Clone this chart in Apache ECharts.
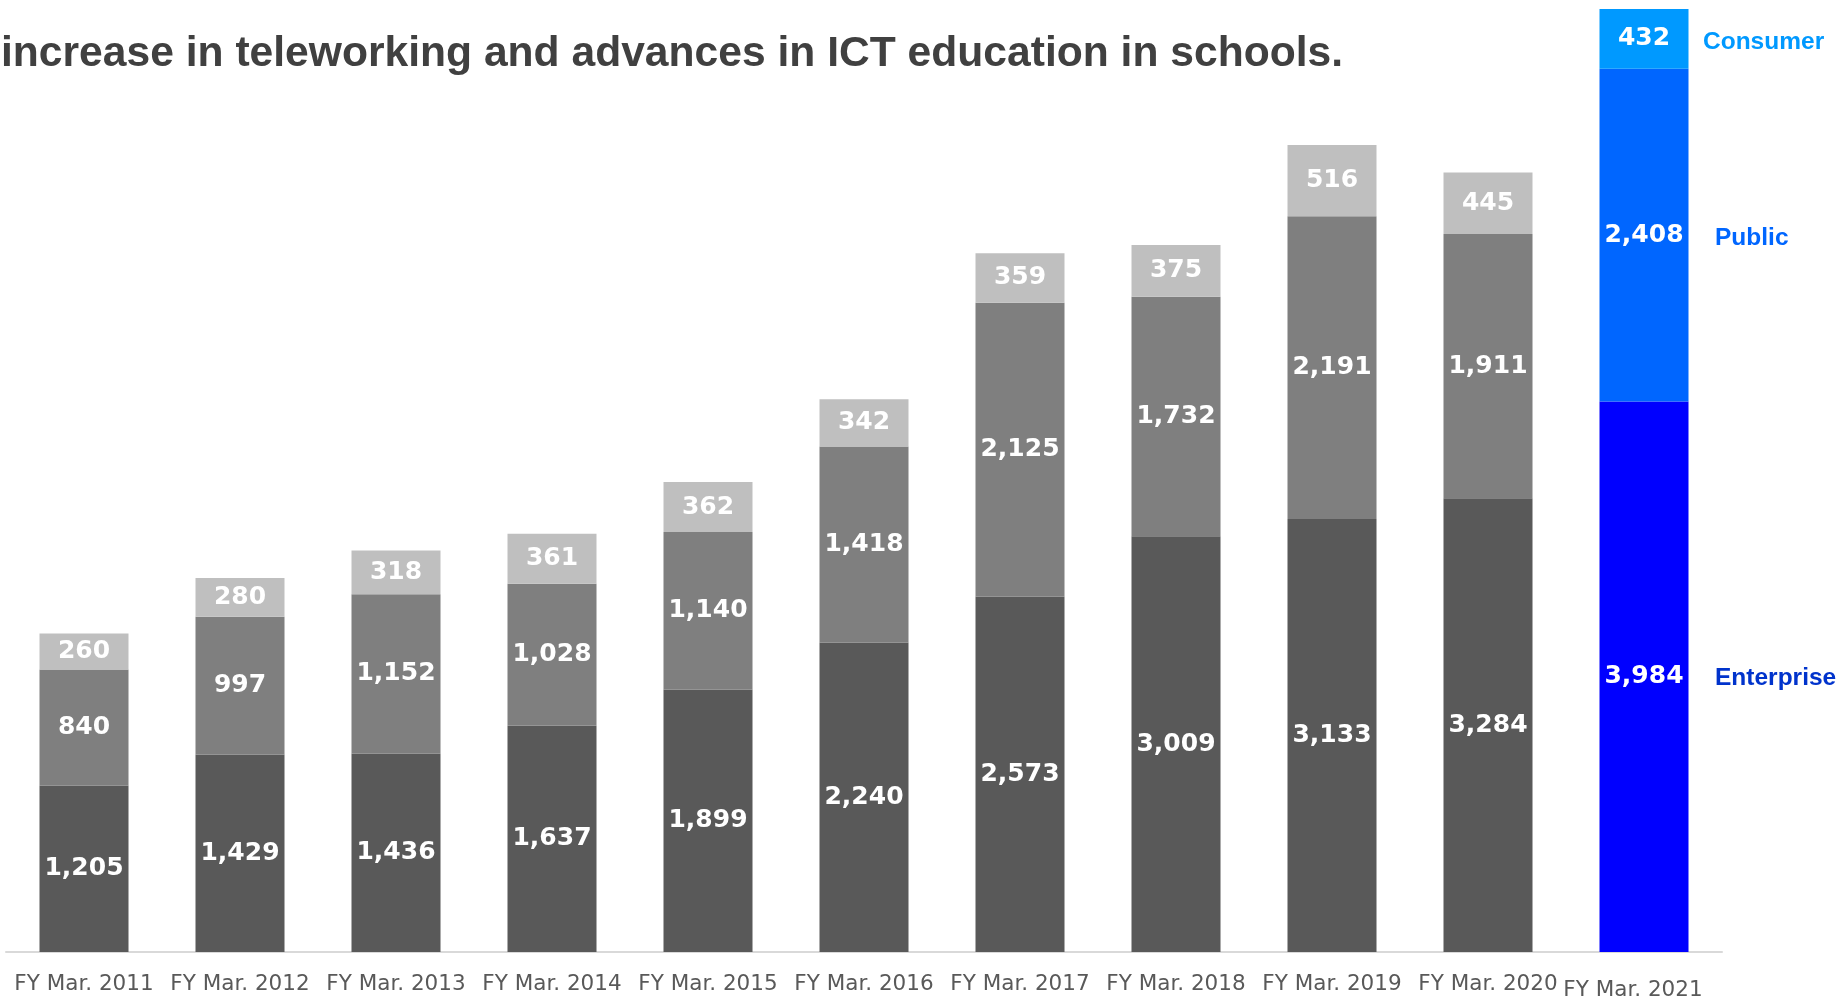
<!DOCTYPE html>
<html>
<head>
<meta charset="utf-8">
<script src="https://cdn.jsdelivr.net/npm/echarts@6/dist/echarts.min.js"></script>
<style>html,body{margin:0;padding:0;background:#fff;}#c{width:1839px;height:998px;}</style>
</head>
<body>
<div id="c"></div>
<script>
const categories = ['FY Mar. 2011','FY Mar. 2012','FY Mar. 2013','FY Mar. 2014','FY Mar. 2015','FY Mar. 2016','FY Mar. 2017','FY Mar. 2018','FY Mar. 2019','FY Mar. 2020','FY Mar. 2021'];
const seriesNames = ['Enterprise','Public','Consumer'];
const enterprise = [1205,1429,1436,1637,1899,2240,2573,3009,3133,3284,3984];
const publicSector = [840,997,1152,1028,1140,1418,2125,1732,2191,1911,2408];
const consumer = [260,280,318,361,362,342,359,375,516,445,432];
const titleText = 'increase in teleworking and advances in ICT education in schools.';

const grayColors = ['#595959','#7f7f7f','#bfbfbf'];
const blueColors = ['#0000ff','#0066ff','#0099ff'];
const nameColors = ['#0033cc','#0066ff','#0099ff'];
const nameOffsets = [[71,2],[71,3],[59,3]];

const allData = [enterprise, publicSector, consumer];
const last = categories.length - 1;
const totalLast = enterprise[last] + publicSector[last] + consumer[last];

const fmt = v => Number(v).toLocaleString('en-US');

const series = allData.map((arr, si) => {
  let below = 0;
  for (let k = 0; k < si; k++) below += allData[k][last];
  const mid = below + arr[last] / 2;
  return {
    name: seriesNames[si],
    type: 'bar',
    stack: 'total',
    barWidth: 89,
    data: arr.map((v, i) => ({
      value: v,
      itemStyle: { color: i === last ? blueColors[si] : grayColors[si] }
    })),
    label: {
      show: true,
      position: 'inside',
      color: '#ffffff',
      fontFamily: 'DejaVu Sans',
      fontWeight: 'bold',
      fontSize: 25,
      formatter: p => fmt(p.value)
    },
    markPoint: {
      symbol: 'circle',
      symbolSize: 0,
      silent: true,
      data: [{
        coord: [categories[last], mid],
        value: seriesNames[si]
      }],
      label: {
        show: true,
        position: 'inside',
        align: 'left',
        verticalAlign: 'middle',
        offset: nameOffsets[si],
        color: nameColors[si],
        fontFamily: 'Liberation Sans',
        fontWeight: 'bold',
        fontSize: 24.5,
        formatter: () => seriesNames[si]
      }
    }
  };
});

const chart = echarts.init(document.getElementById('c'));
chart.setOption({
  animation: false,
  backgroundColor: '#ffffff',
  title: {
    text: titleText,
    left: -4,
    top: 28,
    textStyle: {
      fontFamily: 'Liberation Sans',
      fontWeight: 'bold',
      fontSize: 42.6,
      color: '#404040'
    }
  },
  grid: { left: 6, right: 117, top: 9, bottom: 46, containLabel: false, outerBoundsMode: 'none' },
  xAxis: {
    type: 'category',
    data: categories.map((c, i) => i === last ? { value: c, textStyle: { padding: [6, 22, 0, 0] } } : c),
    axisLine: { show: true, lineStyle: { color: '#d9d9d9', width: 2 } },
    axisTick: { show: false },
    axisLabel: {
      interval: 0,
      margin: 21,
      color: '#595959',
      fontFamily: 'DejaVu Sans',
      fontSize: 21.5
    }
  },
  yAxis: {
    type: 'value',
    min: 0,
    max: totalLast,
    show: false,
    splitLine: { show: false }
  },
  series: series
});
</script>
</body>
</html>
